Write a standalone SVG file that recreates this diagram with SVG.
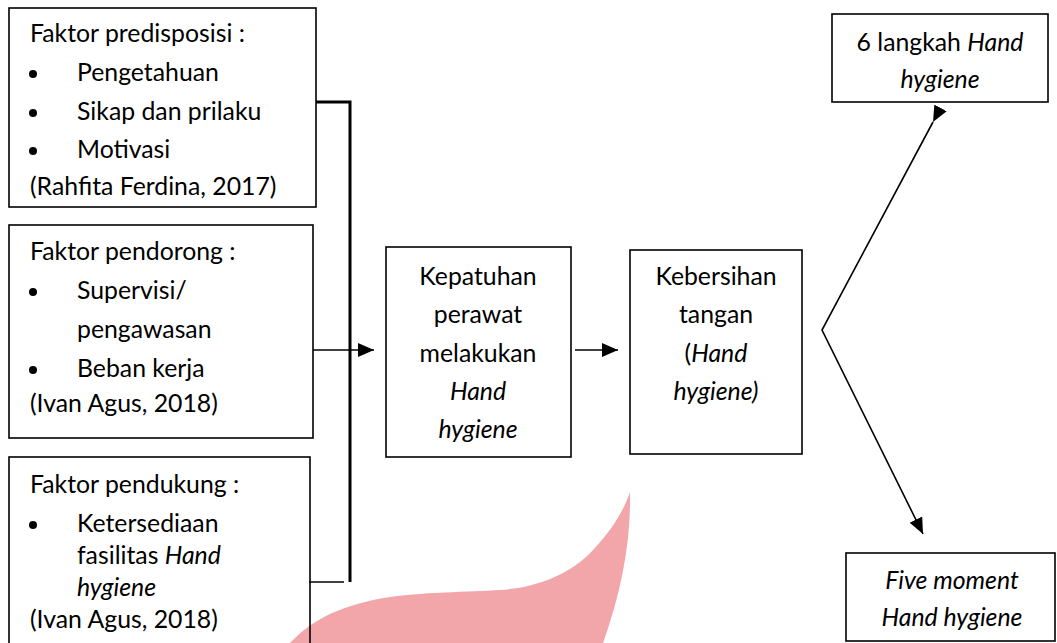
<svg xmlns="http://www.w3.org/2000/svg" width="1057" height="643" viewBox="0 0 1057 643">
<style>
.box{fill:none;stroke:#000;stroke-width:1.6}
text{font-family:Lato,"Liberation Sans",sans-serif;font-size:24.8px;fill:#000}
.c{text-anchor:middle}
.i{font-style:italic}
.con{fill:none;stroke:#000;stroke-width:1.6}
.thick{fill:none;stroke:#000;stroke-width:3}
</style>
<defs>
<marker id="ah" viewBox="0 0 16 14" refX="16" refY="7" markerWidth="16" markerHeight="14" markerUnits="userSpaceOnUse" orient="auto">
<path d="M0,0 L16,7 L0,14 Z" fill="#000"/>
</marker>
</defs>
<rect width="1057" height="643" fill="#fff"/>
<path id="watermark" d="M290 643 C310 622 335 607 383 598 C420 592 470 592 500 590 C535 588 570 575 593 550 C612 530 624 510 630 492 C631 540 622 590 603 643 Z" fill="#f2a6aa"/>
<g id="connectors">
<polyline class="thick" points="316,102 350,102 350,582"/>
<line class="con" x1="309" y1="582" x2="344" y2="582"/>
<line class="con" x1="313" y1="350" x2="374" y2="350" marker-end="url(#ah)"/>
<line class="con" x1="575" y1="350" x2="618" y2="350" marker-end="url(#ah)"/>
<polyline class="con" points="933,122 822,330 923,534" marker-start="url(#ah)" marker-end="url(#ah)"/>
</g>
<g id="predisposisi">
<rect class="box" x="9" y="8" width="307" height="199"/>
<text x="30" y="42">Faktor predisposisi :</text>
<circle cx="33" cy="74" r="4"/><text x="77" y="81">Pengetahuan</text>
<circle cx="33" cy="113" r="4"/><text x="77" y="120">Sikap dan prilaku</text>
<circle cx="33" cy="151" r="4"/><text x="77" y="158">Motivasi</text>
<text x="30" y="195">(Rahfita Ferdina, 2017)</text>
</g>
<g id="pendorong">
<rect class="box" x="9" y="225" width="304" height="213"/>
<text x="30" y="260">Faktor pendorong :</text>
<circle cx="33" cy="292" r="4"/><text x="77" y="299">Supervisi/</text>
<text x="77" y="338">pengawasan</text>
<circle cx="33" cy="370" r="4"/><text x="77" y="377">Beban kerja</text>
<text x="30" y="412">(Ivan Agus, 2018)</text>
</g>
<g id="pendukung">
<rect class="box" x="9" y="457" width="301" height="200"/>
<text x="30" y="493">Faktor pendukung :</text>
<circle cx="33" cy="525" r="4"/><text x="77" y="532">Ketersediaan</text>
<text x="77" y="564">fasilitas <tspan class="i">Hand</tspan></text>
<text x="77" y="596" class="i">hygiene</text>
<text x="30" y="628">(Ivan Agus, 2018)</text>
</g>
<g id="kepatuhan">
<rect class="box" x="386" y="247" width="185" height="210"/>
<text class="c" x="478" y="285">Kepatuhan</text>
<text class="c" x="478" y="323">perawat</text>
<text class="c" x="478" y="362">melakukan</text>
<text class="c i" x="478" y="400">Hand</text>
<text class="c i" x="478" y="438">hygiene</text>
</g>
<g id="kebersihan">
<rect class="box" x="630" y="250" width="172" height="204"/>
<text class="c" x="716" y="285">Kebersihan</text>
<text class="c" x="716" y="323">tangan</text>
<text class="c" x="716" y="362">(<tspan class="i">Hand</tspan></text>
<text class="c i" x="716" y="400">hygiene)</text>
</g>
<g id="langkah">
<rect class="box" x="832" y="14" width="216" height="88"/>
<text class="c" x="940" y="51">6 langkah <tspan class="i">Hand</tspan></text>
<text class="c i" x="940" y="88">hygiene</text>
</g>
<g id="fivemoment">
<rect class="box" x="846" y="553" width="209" height="88"/>
<text class="c i" x="952" y="589">Five moment</text>
<text class="c i" x="952" y="626">Hand hygiene</text>
</g>
</svg>
